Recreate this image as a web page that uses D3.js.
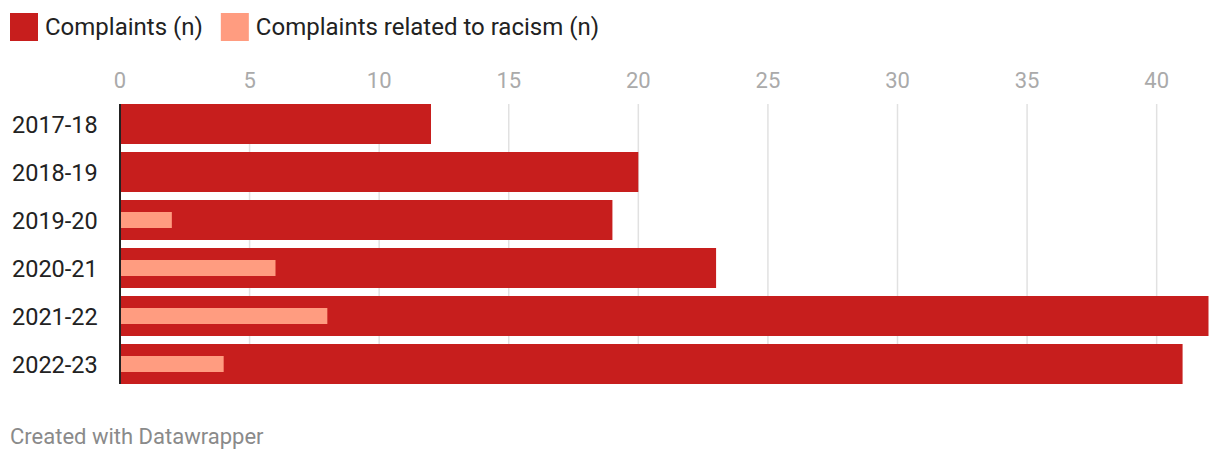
<!DOCTYPE html>
<html><head><meta charset="utf-8">
<script src="https://cdn.jsdelivr.net/npm/d3@7"></script>
<style>
body{margin:0;background:#fff;font-family:Roboto,sans-serif;}
</style></head>
<body><svg id="c" width="1220" height="462"></svg>
<script>
const years = ["2017-18","2018-19","2019-20","2020-21","2021-22","2022-23"];
const complaints = [12,20,19,23,42,41];
const racism = [null,null,2,6,8,4];
const ticks = [0,5,10,15,20,25,30,35,40];
const seriesNames = ["Complaints (n)","Complaints related to racism (n)"];
const colors = ["#c71e1d","#ff9c80"];

const svg = d3.select("#c");
const x = d3.scaleLinear().domain([0,42]).range([120,1208.5]);
const yb = d3.scaleBand().domain(years).range([104,384]).paddingInner(1/6).paddingOuter(0);

// legend
const leg = svg.append("g");
let lx = 10;
seriesNames.forEach((n,i)=>{
  leg.append("rect").attr("x",lx).attr("y",13).attr("width",28).attr("height",28).attr("fill",colors[i]);
  const t = leg.append("text").attr("x",lx+35).attr("y",35).attr("font-size",24).attr("fill","#222").text(n);
  lx = lx + 35 + t.node().getComputedTextLength() + 18;
});

// grid
const g = svg.append("g");
g.selectAll("line.grid").data(ticks.filter(t=>t>0)).join("line")
  .attr("x1",d=>x(d)).attr("x2",d=>x(d)).attr("y1",104).attr("y2",384)
  .attr("stroke","#e1e1e1").attr("stroke-width",1.5);
g.selectAll("text.tick").data(ticks).join("text")
  .attr("x",d=>x(d)).attr("y",88).attr("text-anchor","middle")
  .attr("font-size",22).attr("fill","#aaaaaa").text(d=>d);

// bars
svg.selectAll("rect.main").data(years).join("rect")
  .attr("x",x(0)+1).attr("y",d=>yb(d))
  .attr("width",(d,i)=>x(complaints[i])-x(0)-1).attr("height",yb.bandwidth())
  .attr("fill",colors[0]);
svg.selectAll("rect.rac").data(years.filter((d,i)=>racism[i]!=null)).join("rect")
  .attr("x",x(0)+1).attr("y",d=>yb(d)+yb.bandwidth()/2-8)
  .attr("width",d=>x(racism[years.indexOf(d)])-x(0)-1).attr("height",16)
  .attr("fill",colors[1]);

// axis line
svg.append("line").attr("x1",x(0)).attr("x2",x(0)).attr("y1",104).attr("y2",384)
  .attr("stroke","#222").attr("stroke-width",2);

// year labels
svg.selectAll("text.year").data(years).join("text")
  .attr("x",12).attr("y",d=>yb(d)+yb.bandwidth()/2+8.5)
  .attr("font-size",23.5).attr("fill","#222").text(d=>d);

// footer
svg.append("text").attr("x",10).attr("y",444).attr("font-size",22).attr("fill","#8a8a8a").text("Created with Datawrapper");
</script></body></html>
